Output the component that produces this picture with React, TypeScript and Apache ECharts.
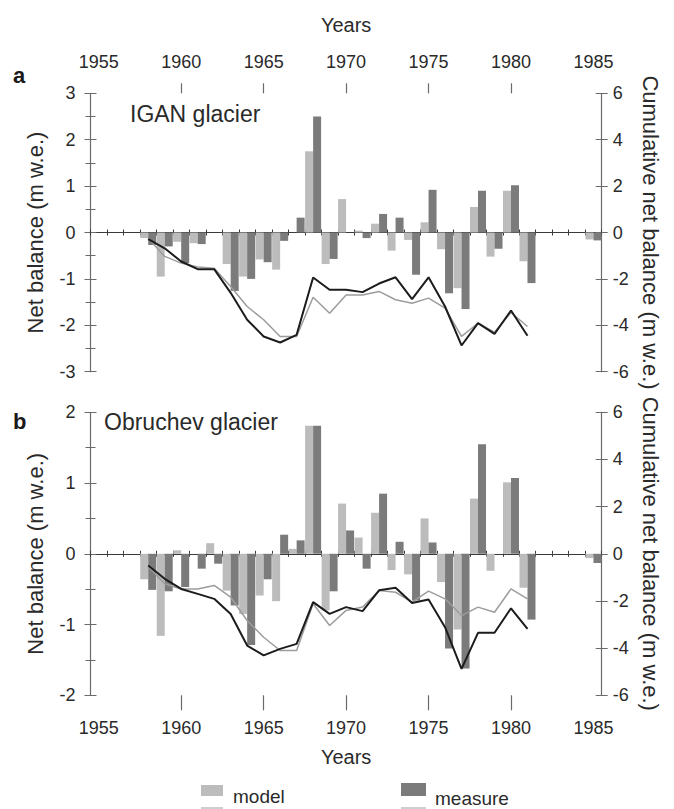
import React, { useEffect, useRef } from "react";
import * as echarts from "echarts";

const years = [
  "1955","1956","1957","1958","1959","1960","1961","1962","1963","1964",
  "1965","1966","1967","1968","1969","1970","1971","1972","1973","1974",
  "1975","1976","1977","1978","1979","1980","1981","1982","1983","1984","1985",
];

// IGAN glacier (panel a) — annual net balance (m w.e.)
const igaModel = [null,null,null,-0.12,-0.95,-0.2,-0.23,null,-0.68,-0.95,-0.58,-0.8,null,1.75,-0.68,0.72,0.04,0.19,-0.39,-0.16,0.22,-0.36,-1.2,0.55,-0.52,0.9,-0.62,null,null,null,-0.15];
const igaMeasure = [null,null,null,-0.27,-0.3,-0.66,-0.25,null,-1.26,-1.0,-0.64,-0.18,0.32,2.5,-0.57,null,-0.12,0.4,0.32,-0.91,0.92,-1.31,-1.65,0.9,-0.35,1.02,-1.09,null,null,null,-0.17];
// IGAN cumulative (m w.e.)
const igaCumModel = [null,null,null,-0.25,-1.03,-1.32,-1.49,-1.54,-2.33,-3.19,-3.76,-4.48,-4.48,-2.79,-3.48,-2.69,-2.69,-2.54,-2.9,-3.05,-2.83,-3.26,-4.48,-3.91,-4.3,-3.45,-4.05,null,null,null,null];
const igaCumMeasure = [null,null,null,-0.29,-0.68,-1.25,-1.58,-1.58,-2.6,-3.76,-4.48,-4.74,-4.41,-1.94,-2.47,-2.47,-2.57,-2.2,-1.93,-2.87,-1.93,-3.19,-4.87,-3.91,-4.37,-3.36,-4.45,null,null,null,null];

// Obruchev glacier (panel b)
const obModel = [null,null,null,-0.36,-1.16,0.05,null,0.15,-0.52,-0.85,-0.59,-0.67,0.07,1.81,-0.8,0.71,0.23,0.58,-0.23,-0.29,0.5,-0.4,-1.07,0.78,-0.24,1.01,-0.48,null,null,null,-0.06];
const obMeasure = [null,null,null,-0.51,-0.53,-0.47,-0.21,-0.14,-0.73,-1.29,-0.36,0.27,0.19,1.81,-0.53,0.33,-0.21,0.85,0.17,-0.66,0.16,-1.34,-1.62,1.55,null,1.07,-0.93,null,null,null,-0.13];
const obCumModel = [null,null,null,-0.55,-1.27,-1.49,-1.49,-1.34,-1.84,-2.83,-3.54,-4.1,-4.1,-2.12,-3.04,-2.4,-2.26,-1.56,-1.63,-2.05,-1.58,-1.91,-2.62,-2.26,-2.48,-1.49,-1.91,null,null,null,null];
const obCumMeasure = [null,null,null,-0.5,-1.06,-1.49,-1.7,-1.91,-2.55,-3.89,-4.31,-4.03,-3.82,-2.05,-2.55,-2.26,-2.43,-1.55,-1.44,-2.09,-1.94,-3.11,-4.88,-3.35,-3.35,-2.31,-3.18,null,null,null,null];

const FONT = "Liberation Sans, Arial, Helvetica, sans-serif";
const AXIS = "#6a6a6a";
const TXT = "#2a2a2a";
const LIGHT = "#bcbcbc";
const DARK = "#7b7b7b";
const BLACK = "#1c1c1c";
const GRAY = "#9c9c9c";

export default function App() {
  const ref = useRef<HTMLDivElement>(null);
  useEffect(() => {
    if (!ref.current) return;
    const chart = echarts.init(ref.current, null, { renderer: "svg" });

    const zeroAxis = (grid: number, pos: string, inside: boolean, showLine: boolean, onZeroIdx: number) => ({
      type: "category",
      data: years,
      gridIndex: grid,
      position: pos,
      boundaryGap: true,
      axisLine: { show: showLine, onZero: true, onZeroAxisIndex: onZeroIdx, lineStyle: { color: "#3a3a3a", width: 1.2 } },
      axisTick: { show: true, inside, length: 3, interval: 0, lineStyle: { color: "#3a3a3a" } },
      axisLabel: { show: false },
      splitLine: { show: false },
    });
    const labelAxis = (grid: number, pos: string, tickLen: number, margin: number, nameGap: number) => ({
      type: "category",
      data: years,
      gridIndex: grid,
      position: pos,
      boundaryGap: true,
      axisLine: { show: false, onZero: false },
      axisTick: {
        show: true,
        alignWithLabel: true,
        length: tickLen,
        interval: (i: number) => i % 5 === 0 && i > 0 && i < 30,
        lineStyle: { color: AXIS, width: 1.2 },
      },
      axisLabel: { show: true, interval: 4, fontSize: 18, color: TXT, fontFamily: FONT, margin },
      splitLine: { show: false },
      name: "Years",
      nameLocation: "middle",
      nameGap,
      nameTextStyle: { fontSize: 20, color: TXT, fontFamily: FONT },
    });
    const leftAxis = (grid: number, min: number, max: number, main: boolean) => ({
      type: "value",
      gridIndex: grid,
      position: "left",
      min, max, interval: 1,
      axisLine: { show: main, onZero: false, lineStyle: { color: AXIS, width: 1.2 } },
      axisTick: { show: true, inside: !main, length: 6, lineStyle: { color: AXIS } },
      minorTick: { show: true, splitNumber: 2, length: 5, lineStyle: { color: AXIS } },
      axisLabel: { show: main, fontSize: 18, color: TXT, fontFamily: FONT, margin: 15 },
      splitLine: { show: false },
      name: main ? "Net balance (m w.e.)" : "",
      nameLocation: "middle",
      nameGap: 44,
      nameTextStyle: { fontSize: 22, color: TXT, fontFamily: FONT },
    });
    const rightAxis = (grid: number, main: boolean) => ({
      type: "value",
      gridIndex: grid,
      position: "right",
      min: -6, max: 6, interval: 2,
      axisLine: { show: main, onZero: false, lineStyle: { color: AXIS, width: 1.2 } },
      axisTick: { show: true, inside: !main, length: 6, lineStyle: { color: AXIS } },
      axisLabel: { show: main, fontSize: 18, color: TXT, fontFamily: FONT, margin: 11 },
      splitLine: { show: false },
      name: main ? "Cumulative net balance (m w.e.)" : "",
      nameLocation: "middle",
      nameRotate: -90,
      nameGap: 37,
      nameTextStyle: { fontSize: 22, color: TXT, fontFamily: FONT },
    });

    const bar = (name: string, data: any[], color: string, xi: number, yi: number) => ({
      name, type: "bar", data, xAxisIndex: xi, yAxisIndex: yi,
      barWidth: 8, barGap: "0%",
      itemStyle: { color },
    });
    const line = (name: string, data: any[], color: string, width: number, xi: number, yi: number) => ({
      name, type: "line", data, xAxisIndex: xi, yAxisIndex: yi,
      symbol: "none", connectNulls: false,
      lineStyle: { color, width },
      itemStyle: { color },
      z: 3,
    });

    chart.setOption({
      animation: false,
      backgroundColor: "#ffffff",
      textStyle: { fontFamily: FONT },
      grid: [
        { left: 90.5, top: 93.3, width: 511.2, height: 278.4 },
        { left: 90.5, top: 412.3, width: 511.2, height: 283 },
      ],
      xAxis: [
        zeroAxis(0, "bottom", false, true, 0),
        zeroAxis(0, "bottom", true, false, 0),
        labelAxis(0, "top", 10, 22, 58),
        zeroAxis(1, "top", false, true, 4),
        zeroAxis(1, "top", true, false, 4),
        labelAxis(1, "bottom", 15, 24, 52),
      ],
      yAxis: [
        leftAxis(0, -3, 3, true),
        leftAxis(0, -3, 3, false),
        rightAxis(0, true),
        rightAxis(0, false),
        leftAxis(1, -2, 2, true),
        leftAxis(1, -2, 2, false),
        rightAxis(1, true),
        rightAxis(1, false),
      ],
      series: [
        bar("model", igaModel, LIGHT, 0, 0),
        bar("measure", igaMeasure, DARK, 0, 0),
        line("model cumulative", igaCumModel, GRAY, 1.5, 0, 2),
        line("measure cumulative", igaCumMeasure, BLACK, 2, 0, 2),
        bar("model", obModel, LIGHT, 3, 4),
        bar("measure", obMeasure, DARK, 3, 4),
        line("model cumulative", obCumModel, GRAY, 1.5, 3, 6),
        line("measure cumulative", obCumMeasure, BLACK, 2, 3, 6),
      ],
      graphic: [
        { type: "text", left: 13, top: 64, style: { text: "a", fontSize: 22, fontWeight: "bold", fill: "#1a1a1a", fontFamily: FONT } },
        { type: "text", left: 13, top: 410, style: { text: "b", fontSize: 22, fontWeight: "bold", fill: "#1a1a1a", fontFamily: FONT } },
        { type: "text", left: 130, top: 102, style: { text: "IGAN glacier", fontSize: 23, fill: TXT, fontFamily: FONT } },
        { type: "text", left: 104, top: 410, style: { text: "Obruchev glacier", fontSize: 23, fill: TXT, fontFamily: FONT } },
        { type: "rect", shape: { x: 201, y: 785, width: 22, height: 11 }, style: { fill: LIGHT } },
        { type: "text", left: 233, top: 787, style: { text: "model", fontSize: 19, fill: TXT, fontFamily: FONT } },
        { type: "rect", shape: { x: 401, y: 783, width: 25, height: 13 }, style: { fill: DARK } },
        { type: "text", left: 435, top: 789, style: { text: "measure", fontSize: 19, fill: TXT, fontFamily: FONT } },
        { type: "rect", shape: { x: 201, y: 807, width: 22, height: 2 }, style: { fill: "#cfcfcf" } },
        { type: "rect", shape: { x: 401, y: 807, width: 25, height: 2 }, style: { fill: "#cfcfcf" } },
      ],
    });
    return () => chart.dispose();
  }, []);
  return (
    <div
      ref={ref}
      style={{ position: "absolute", left: 0, top: 0, width: 674, height: 809 }}
    />
  );
}
